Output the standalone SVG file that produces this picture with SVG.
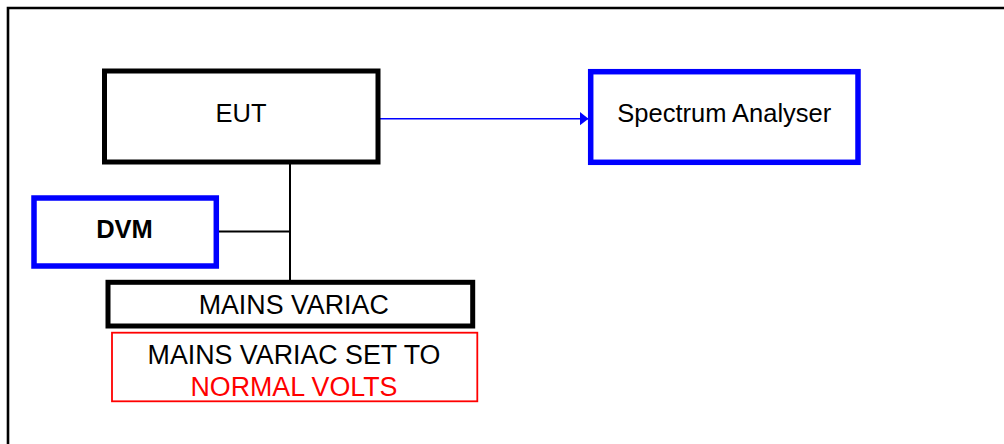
<svg xmlns="http://www.w3.org/2000/svg" width="1004" height="444" viewBox="0 0 1004 444">
<style>
text{font-family:"Liberation Sans",Arial,sans-serif;font-size:25.5px;fill:#000;text-anchor:middle}
.big{font-size:26.8px}
.blk{fill:#fff;stroke:#000;stroke-width:5}
.blu{fill:#fff;stroke:#0000ff;stroke-width:5.5}
.red{fill:#fff;stroke:#ff0000;stroke-width:1.8}
.wire{fill:none;stroke:#000;stroke-width:2}
</style>
<defs>
<marker id="arr" markerUnits="userSpaceOnUse" markerWidth="9" markerHeight="14" refX="9" refY="7" orient="auto" viewBox="0 0 9 14">
<path d="M0,0 L9,7 L0,14 Z" fill="#0000ff"/>
</marker>
</defs>
<rect width="1004" height="444" fill="#fff"/>
<path d="M8,444 V8 H1004" fill="none" stroke="#000" stroke-width="2.6"/>
<g id="connectors">
<line x1="378" y1="118.7" x2="588.5" y2="118.7" stroke="#0000ff" stroke-width="1.6" marker-end="url(#arr)"/>
<line class="wire" x1="290" y1="162" x2="290" y2="284"/>
<line class="wire" x1="216" y1="231.5" x2="290" y2="231.5"/>
</g>
<g id="eut">
<rect class="blk" x="104.5" y="71" width="273.5" height="91"/>
<text x="241" y="122">EUT</text>
</g>
<g id="spectrum">
<rect class="blu" x="590.7" y="71.7" width="267.3" height="90.6"/>
<text x="724.3" y="122">Spectrum Analyser</text>
</g>
<g id="dvm">
<rect class="blu" x="34" y="198" width="182.3" height="68"/>
<text x="124.5" y="238" font-weight="bold">DVM</text>
</g>
<g id="variac">
<rect class="blk" x="108" y="282.3" width="364.7" height="43.7"/>
<text class="big" x="293.7" y="314">MAINS VARIAC</text>
</g>
<g id="note">
<rect class="red" x="112" y="332.7" width="365.3" height="68.6"/>
<text class="big" x="294" y="364">MAINS VARIAC SET TO</text>
<text class="big" x="294" y="396" style="fill:#ff0000">NORMAL VOLTS</text>
</g>
</svg>
